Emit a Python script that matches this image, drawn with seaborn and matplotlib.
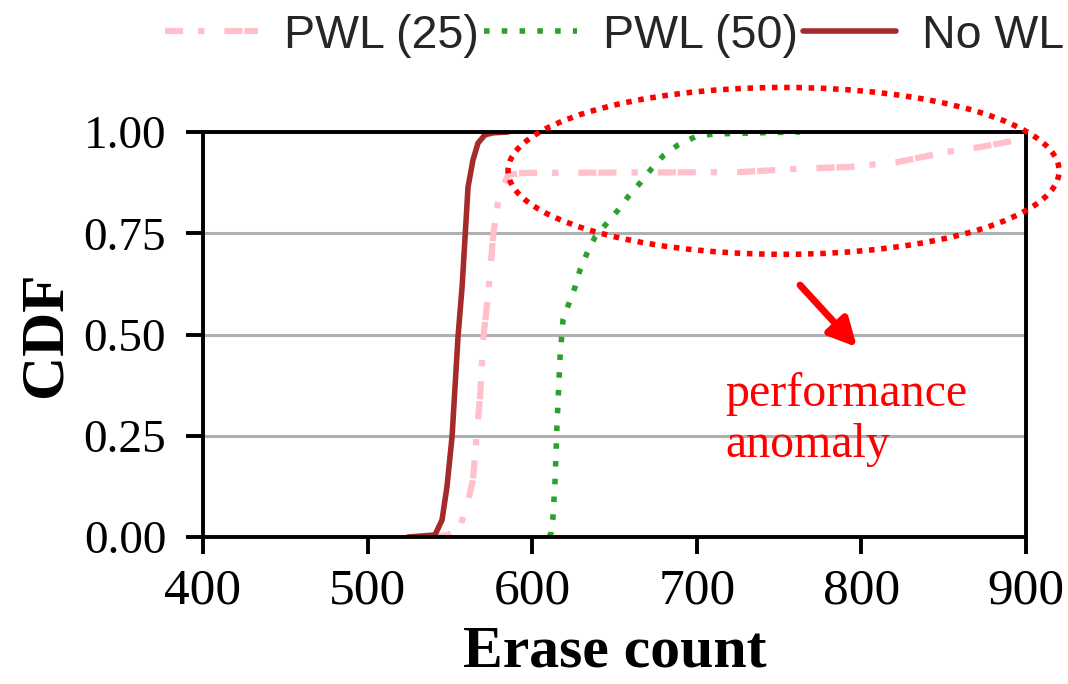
import matplotlib
matplotlib.use("Agg")
import matplotlib.pyplot as plt
from matplotlib.patches import Ellipse
import seaborn as sns
import pandas as pd

# ---- data ----
pwl25_x = [540.0, 548.8, 556.0, 560.2, 564.0, 566.2, 568.3, 570.5, 573.1, 576.4,
           579.2, 582.3, 585.3, 594.4, 660.0, 725.6, 761.5, 793.1, 822.2, 852.0,
           872.1, 892.1, 900.0]
pwl25_y = [0.0, 0.005, 0.025, 0.075, 0.141, 0.25, 0.346, 0.5, 0.593, 0.75,
           0.825, 0.864, 0.894, 0.899, 0.900, 0.901, 0.909, 0.914, 0.926, 0.951,
           0.963, 0.978, 0.985]

pwl50_x = [610.2, 611.4, 612.6, 613.9, 615.0, 616.9, 618.7, 622.4, 626.0, 629.0,
           633.3, 638.2, 645.4, 652.1, 658.2, 665.5, 672.8, 679.5, 688.6, 698.9,
           709.8, 738.0, 762.7]
pwl50_y = [0.0, 0.010, 0.049, 0.141, 0.272, 0.444, 0.536, 0.578, 0.617, 0.659,
           0.701, 0.741, 0.775, 0.807, 0.840, 0.874, 0.911, 0.941, 0.968, 0.988,
           0.995, 0.998, 1.0]

nowl_x = [524.5, 540.9, 545.2, 548.2, 551.3, 553.1, 554.9, 557.4, 559.2, 561.0,
          564.0, 567.1, 571.3, 576.2, 585.3]
nowl_y = [0.0, 0.005, 0.042, 0.124, 0.248, 0.371, 0.494, 0.618, 0.741, 0.864,
          0.931, 0.973, 0.993, 0.998, 1.0]

series_labels = ["PWL (25)", "PWL (50)", "No WL"]
x_ticks = [400, 500, 600, 700, 800, 900]
y_ticks = [0.0, 0.25, 0.5, 0.75, 1.0]
y_tick_labels = ["0.00", "0.25", "0.50", "0.75", "1.00"]
note_text = "performance\nanomaly"

# ---- styling ----
sns.set_theme(style="white")
plt.rcParams["font.family"] = ["Liberation Serif", "DejaVu Serif"]

fig = plt.figure(figsize=(10.68, 6.84), dpi=100)
ax = fig.add_axes([0.1901, 0.2149, 0.7706, 0.5921])

df25 = pd.DataFrame({"x": pwl25_x, "y": pwl25_y})
df50 = pd.DataFrame({"x": pwl50_x, "y": pwl50_y})
dfno = pd.DataFrame({"x": nowl_x, "y": nowl_y})

sns.lineplot(data=df25, x="x", y="y", ax=ax, color="pink", linewidth=4.5,
             linestyle=(3.2, (2.9, 0.3, 2.9, 2.4, 1.0, 3.2)),
             estimator=None, sort=False, label=series_labels[0])
sns.lineplot(data=df50, x="x", y="y", ax=ax, color="#2ca02c", linewidth=4.0,
             linestyle=(0, (1.0, 2.2)),
             estimator=None, sort=False, label=series_labels[1])
sns.lineplot(data=dfno, x="x", y="y", ax=ax, color="#a52a2a", linewidth=4.0,
             linestyle="-", solid_capstyle="round",
             estimator=None, sort=False, label=series_labels[2])

ax.set_xlim(400, 900)
ax.set_ylim(0, 1)
ax.set_xticks(x_ticks)
ax.set_xticklabels([str(t) for t in x_ticks])
ax.set_yticks(y_ticks)
ax.set_yticklabels(y_tick_labels)

ax.yaxis.grid(True, color="#b0b0b0", lw=2.2)
ax.xaxis.grid(False)
ax.set_axisbelow(True)

for s in ax.spines.values():
    s.set_visible(True)
    s.set_color("black")
    s.set_linewidth(2.8)

ax.tick_params(axis="both", direction="out", length=12.5, width=2.8,
               color="black", labelcolor="black", bottom=True, left=True)
ax.tick_params(axis="x", labelsize=37, pad=9.5)
ax.tick_params(axis="y", labelsize=34, pad=14)

ax.set_xlabel("Erase count", fontsize=43, fontweight="bold", color="black",
              labelpad=8)
ax.set_ylabel("CDF", fontsize=44, fontweight="bold", color="black",
              labelpad=7)

# annotation: ellipse, arrow and text
ell = Ellipse((752.7, 0.904), width=334.8, height=0.412, fill=False,
              edgecolor="red", lw=4.0, linestyle=(0, (1.0, 1.2)),
              clip_on=False, zorder=10)
ax.add_patch(ell)
ax.annotate("", xy=(797.3, 0.469), xytext=(762.7, 0.622),
            arrowprops=dict(arrowstyle="-|>,head_length=0.55,head_width=0.28",
                            color="red", lw=5, mutation_scale=30,
                            shrinkA=0, shrinkB=0),
            zorder=10)
ax.text(717.1, 0.197, note_text, color="red", fontsize=34.5,
        ha="left", va="baseline", linespacing=1.2)

leg = ax.legend(loc="center", bbox_to_anchor=(0.5, 1.238), ncol=3,
                frameon=False, handlelength=2.0, handletextpad=0.56,
                columnspacing=0.1, borderaxespad=0,
                prop={"family": ["Liberation Sans", "DejaVu Sans"], "size": 33.5})
for t in leg.get_texts():
    t.set_color("#262626")

fig.savefig("out.png", dpi=100)
